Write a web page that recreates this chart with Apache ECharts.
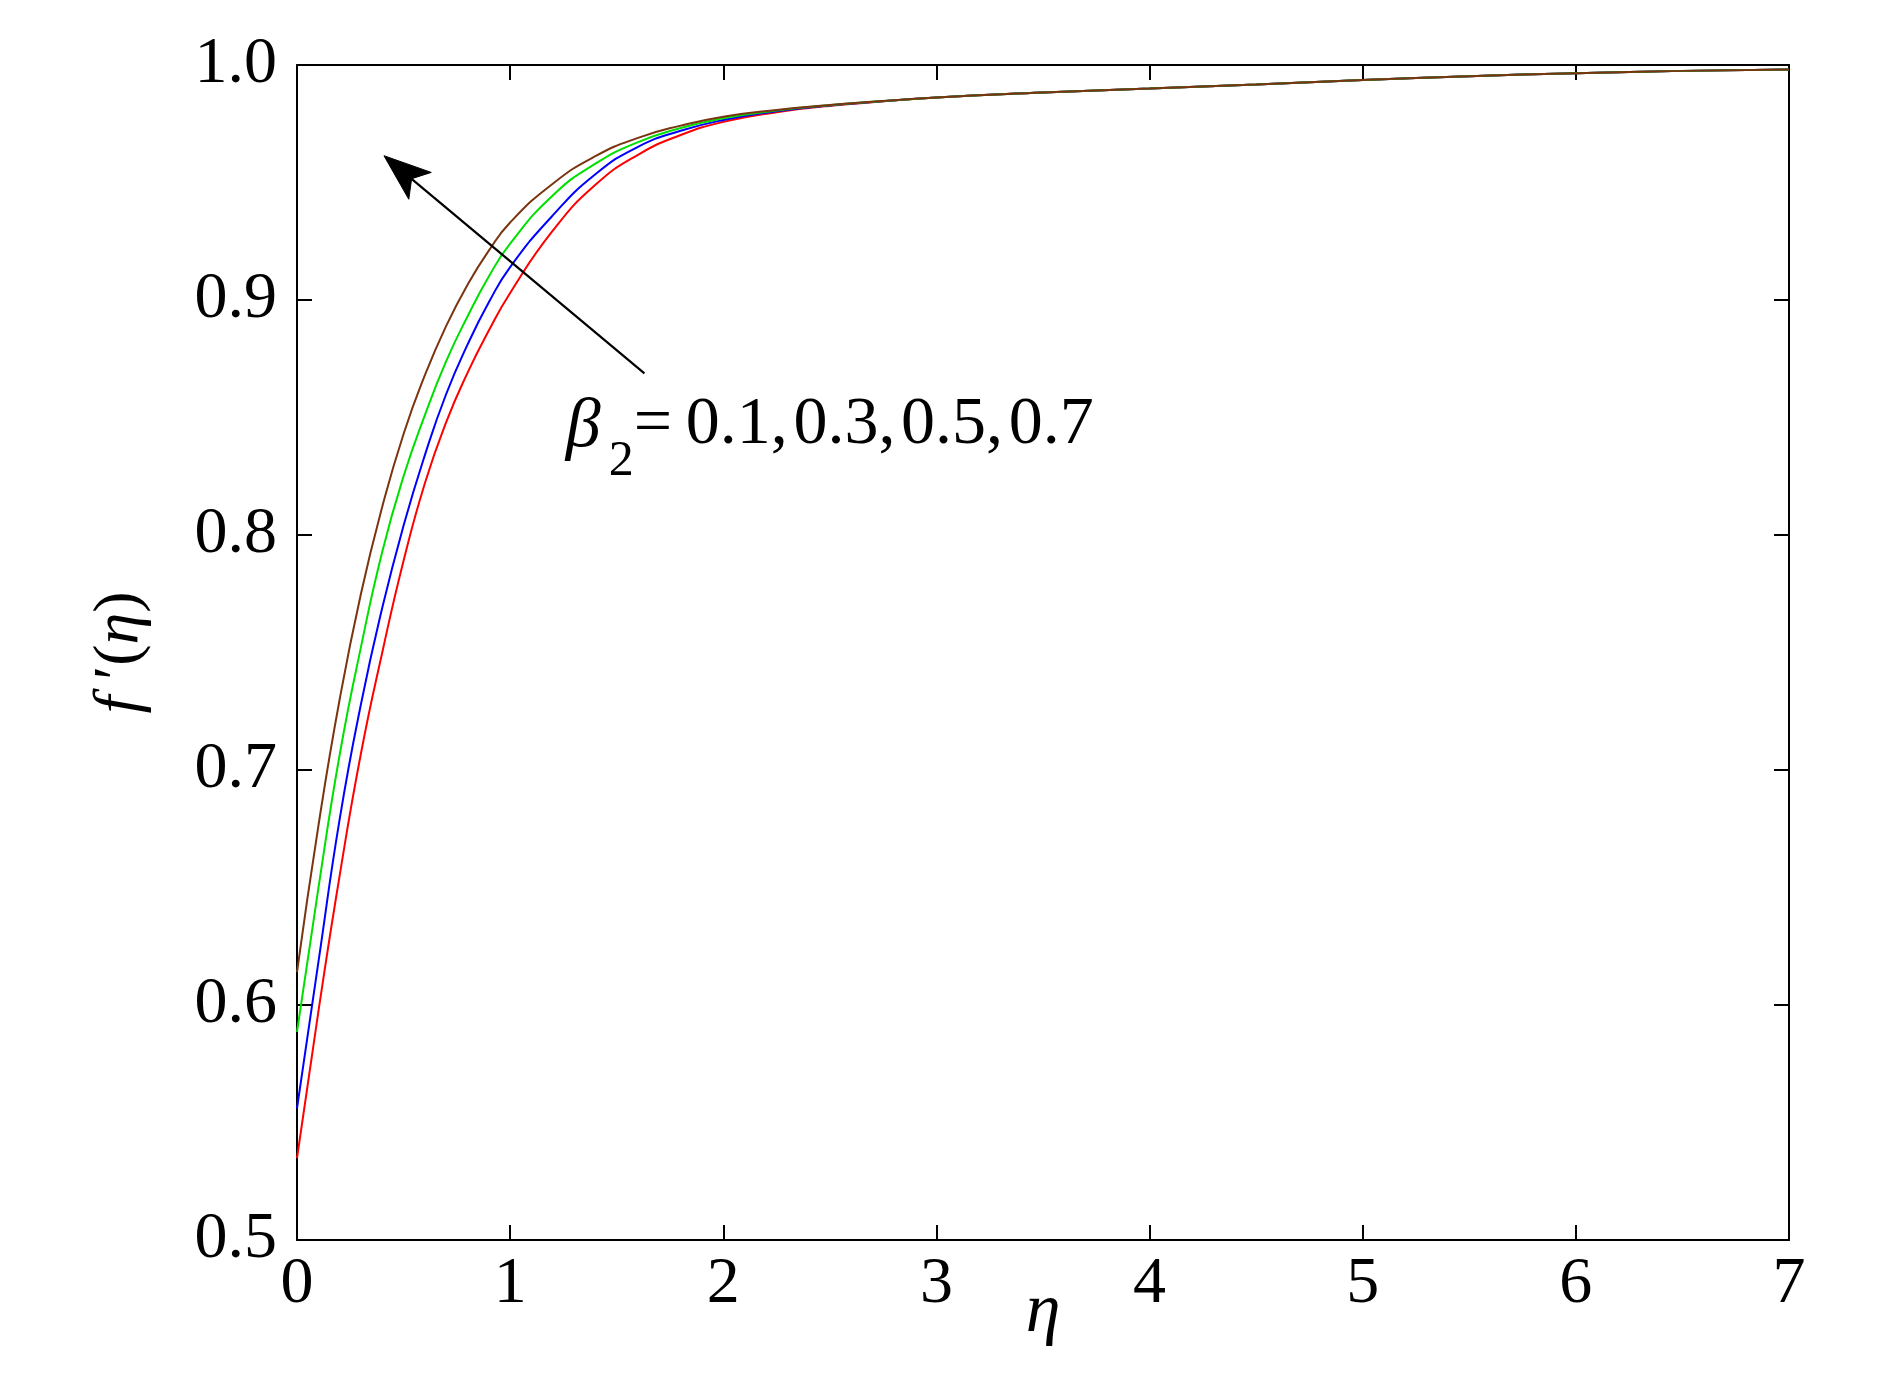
<!DOCTYPE html>
<html><head><meta charset="utf-8">
<script src="https://cdn.jsdelivr.net/npm/echarts@6/dist/echarts.min.js"></script>
<style>html,body{margin:0;padding:0;background:#fff}#c{width:1890px;height:1377px}</style>
</head><body><div id="c"></div>
<script>
// ---- data ----
const eta = [0, 0.1, 0.2, 0.3, 0.4, 0.5, 0.6, 0.7, 0.8, 0.9, 1.0, 1.2, 1.4, 1.6, 1.8, 2.0, 2.25, 2.5, 3.0, 3.5, 4.0, 4.5, 5.0, 5.5, 6.0, 6.5, 7.0];
const fBeta01 = [0.5348, 0.597, 0.655, 0.707, 0.750, 0.789, 0.822, 0.848, 0.869, 0.887, 0.903, 0.9295, 0.9490, 0.9618, 0.9702, 0.9758, 0.9799, 0.9826, 0.9862, 0.9883, 0.9900, 0.9917, 0.9936, 0.9952, 0.9965, 0.9975, 0.9981];
const fBeta03 = [0.556, 0.618, 0.679, 0.728, 0.769, 0.804, 0.834, 0.860, 0.881, 0.899, 0.914, 0.936, 0.9535, 0.9652, 0.9720, 0.9766, 0.9803, 0.9828, 0.9862, 0.9883, 0.9900, 0.9917, 0.9936, 0.9952, 0.9965, 0.9975, 0.9981];
const fBeta05 = [0.5886, 0.6495, 0.7064, 0.7523, 0.7929, 0.825, 0.851, 0.874, 0.893, 0.910, 0.924, 0.9445, 0.9580, 0.9672, 0.9732, 0.9773, 0.9806, 0.9829, 0.9862, 0.9883, 0.9900, 0.9917, 0.9936, 0.9952, 0.9965, 0.9975, 0.9981];
const fBeta07 = [0.614, 0.676, 0.730, 0.775, 0.812, 0.843, 0.868, 0.889, 0.9065, 0.921, 0.933, 0.9495, 0.9612, 0.9690, 0.9742, 0.9780, 0.9809, 0.9830, 0.9862, 0.9883, 0.9900, 0.9917, 0.9936, 0.9952, 0.9965, 0.9975, 0.9981];
const seriesNames = ['β2 = 0.1', 'β2 = 0.3', 'β2 = 0.5', 'β2 = 0.7'];
const xTickLabels = ['0', '1', '2', '3', '4', '5', '6', '7'];
const yTickLabels = ['0.5', '0.6', '0.7', '0.8', '0.9', '1.0'];
const annotationSymbol = 'β';
const annotationSub = '2';
const annotationValues = '=\u20090.1,\u200A0.3,\u200A0.5,\u200A0.7';
// annotation anchor points (data coordinates)
const arrowTail = [1.630, 0.8688];
const arrowTip = [0.408, 0.9614];
const labelAnchor = [1.2705, 0.8366];

const FONT = '"Liberation Serif", "Times New Roman", serif';
const chart = echarts.init(document.getElementById('c'), null, {renderer: 'canvas'});

function mk(vals) { return eta.map((x, i) => [x, vals[i]]); }
const colors = ['#ff0000', '#0000ff', '#00e000', '#7a3510'];
const allVals = [fBeta01, fBeta03, fBeta05, fBeta07];

const axisCommon = {
  type: 'value',
  splitLine: {show: false},
  axisLine: {show: true, onZero: false, lineStyle: {color: '#000', width: 2}},
  axisTick: {show: true, inside: true, length: 15, lineStyle: {color: '#000', width: 2}}
};

chart.setOption({
  animation: false,
  backgroundColor: '#fff',
  grid: {left: 297, top: 65, width: 1492, height: 1175, containLabel: false, outerBoundsMode: 'none'},
  xAxis: [
    Object.assign({}, axisCommon, {
      min: 0, max: 7, interval: 1, position: 'bottom',
      axisLabel: {margin: 12, fontFamily: FONT, fontSize: 66, color: '#000',
        formatter: v => xTickLabels[Math.round(v)]},
      name: 'η', nameLocation: 'middle', nameGap: 38, nameMoveOverlap: false,
      nameTextStyle: {fontFamily: FONT, fontSize: 70, fontStyle: 'italic', color: '#000'}
    }),
    Object.assign({}, axisCommon, {
      min: 0, max: 7, interval: 1, position: 'top', axisLabel: {show: false}
    })
  ],
  yAxis: [
    Object.assign({}, axisCommon, {
      min: 0.5, max: 1.0, interval: 0.1, position: 'left',
      axisLabel: {margin: 20, fontFamily: FONT, fontSize: 66, color: '#000',
        formatter: v => yTickLabels[Math.round((v - 0.5) * 10)]},
      name: '{i|f} ′({i|η})', nameLocation: 'middle', nameGap: 145, nameRotate: 90, nameMoveOverlap: false,
      nameTextStyle: {fontFamily: FONT, fontSize: 64, color: '#000',
        rich: {i: {fontFamily: FONT, fontSize: 64, fontStyle: 'italic', color: '#000'}}}
    }),
    Object.assign({}, axisCommon, {
      min: 0.5, max: 1.0, interval: 0.1, position: 'right', axisLabel: {show: false}
    })
  ],
  series: allVals.map((vals, i) => ({
    name: seriesNames[i], type: 'line', xAxisIndex: 0, yAxisIndex: 0,
    data: mk(vals), showSymbol: false, smooth: 0.5,
    lineStyle: {color: colors[i], width: 2}, itemStyle: {color: colors[i]}, z: 2 + i
  }))
});

function drawAnnotations() {
  const tail = chart.convertToPixel({gridIndex: 0}, arrowTail);
  const tip = chart.convertToPixel({gridIndex: 0}, arrowTip);
  const anc = chart.convertToPixel({gridIndex: 0}, labelAnchor);
  const dx = tip[0] - tail[0], dy = tip[1] - tail[1];
  const L = Math.hypot(dx, dy);
  const ux = dx / L, uy = dy / L, px = -uy, py = ux;
  const headLen = 47, headHalf = 17.5, notch = 36;
  const bx = tip[0] - ux * headLen, by = tip[1] - uy * headLen;
  const nx = tip[0] - ux * notch, ny = tip[1] - uy * notch;
  chart.setOption({
    graphic: [
      {type: 'polyline', z: 10, shape: {points: [tail, [nx, ny]]},
        style: {stroke: '#000', lineWidth: 2.2, fill: null}},
      {type: 'polygon', z: 10, shape: {points: [tip, [bx + px * headHalf, by + py * headHalf], [nx, ny], [bx - px * headHalf, by - py * headHalf]]},
        style: {fill: '#000', stroke: '#000', lineWidth: 1}},
      {type: 'text', z: 10, x: anc[0] - 2, y: anc[1] - 21.6,
        style: {text: annotationSymbol, fontFamily: FONT, fontSize: 70, fontStyle: 'italic', fill: '#000', align: 'left', verticalAlign: 'middle'}},
      {type: 'text', z: 10, x: anc[0] + 41, y: anc[1] + 13,
        style: {text: annotationSub, fontFamily: FONT, fontSize: 50, fill: '#000', align: 'left', verticalAlign: 'middle'}},
      {type: 'text', z: 10, x: anc[0] + 66, y: anc[1] - 24,
        style: {text: annotationValues, fontFamily: FONT, fontSize: 68, fill: '#000', align: 'left', verticalAlign: 'middle'}}
    ]
  });
}
drawAnnotations();
</script>
</body></html>
